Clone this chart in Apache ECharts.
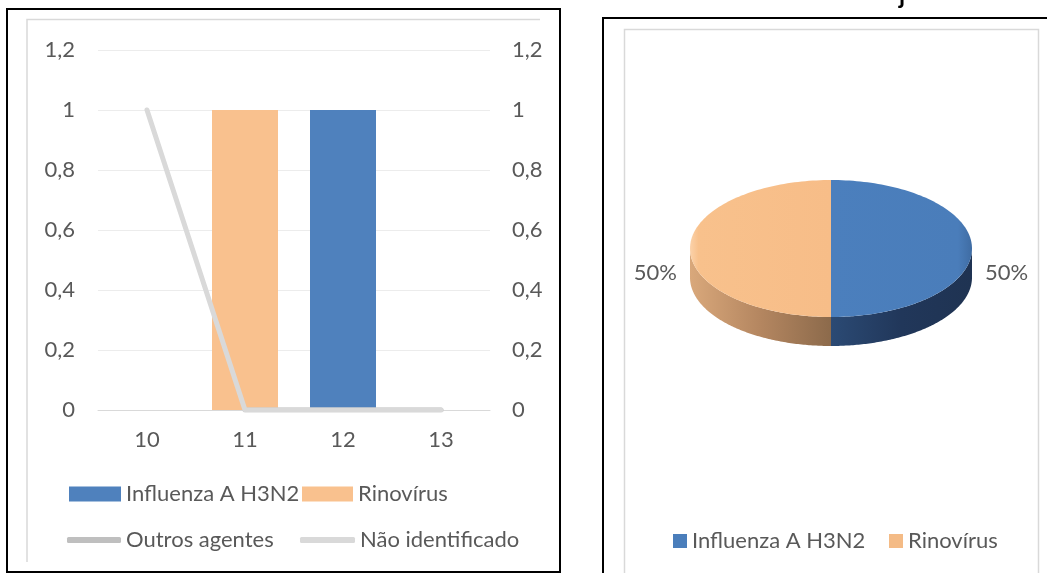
<!DOCTYPE html>
<html><head><meta charset="utf-8">
<script src="https://cdn.jsdelivr.net/npm/echarts@6/dist/echarts.min.js"></script>
<style>html,body{margin:0;padding:0;background:#fff}#c{width:1047px;height:573px}</style>
</head><body><div id="c"></div>
<script>
const categories = ['10', '11', '12', '13'];
const influenza = [0, 0, 1, 0];
const rinovirus = [0, 1, 0, 0];
const outrosAgentes = [null, 0, 0, 0];
const naoIdentificado = [1, 0, 0, 0];
const yMin = 0, yMax = 1.2, yStep = 0.2;
const pieNames = ['Influenza A H3N2', 'Rinovírus'];
const pieValues = [1, 1];

const FONT = 'Lato, "Liberation Sans", sans-serif';
const TXT = '#595959';
const BLUE = '#4f81bd', ORANGE = '#f9c18e';

function fmt(v){ return String(Number(v.toFixed(1))).replace('.', ','); }

const pieGeom = {cx: 831, cy: 248.5, rx: 141, ry: 68.5, depth: 29};
const sideFills = [
  {type:'linear',x:0,y:0,x2:1,y2:0,colorStops:[{offset:0,color:'#2b4a74'},{offset:0.5,color:'#21375a'},{offset:1,color:'#1f3352'}]},
  {type:'linear',x:0,y:0,x2:1,y2:0,colorStops:[{offset:0,color:'#d9a87b'},{offset:0.5,color:'#b48660'},{offset:1,color:'#8c6a4b'}]}
];
const topFills = [
  {type:'linear',x:0,y:0,x2:1,y2:0,colorStops:[{offset:0,color:'#4b7fbd'},{offset:0.9,color:'#4a7dba'},{offset:1,color:'#3f6ca3'}]},
  {type:'linear',x:0,y:0,x2:1,y2:0,colorStops:[{offset:0,color:'#fbd2aa'},{offset:0.06,color:'#f8c18c'},{offset:1,color:'#f7bd88'}]}
];

function pieRender(idx){
  return function(params, api){
    const total = pieValues.reduce((a,b)=>a+b,0);
    let start = 0;
    for (let i=0;i<idx;i++) start += pieValues[i];
    const v = api.value(0);
    const a0 = start/total*Math.PI*2, a1 = (start+v)/total*Math.PI*2;
    const g = pieGeom;
    const pt = (a, dy) => [g.cx + g.rx*Math.sin(a), g.cy - g.ry*Math.cos(a) + dy];
    const N = 120;
    const topPts = [[g.cx, g.cy]];
    for (let k=0;k<=N;k++) topPts.push(pt(a0 + (a1-a0)*k/N, 0));
    const children = [];
    const lo = Math.max(a0, Math.PI/2), hi = Math.min(a1, Math.PI*1.5);
    if (hi > lo) {
      const sp = [];
      for (let k=0;k<=N;k++) sp.push(pt(lo + (hi-lo)*k/N, 0));
      for (let k=N;k>=0;k--) sp.push(pt(lo + (hi-lo)*k/N, g.depth));
      children.push({type:'polygon', shape:{points:sp}, style:{fill:sideFills[idx], stroke:null}});
    }
    children.push({type:'polygon', shape:{points:topPts}, style:{fill:topFills[idx], stroke:null}});
    const mid = (a0+a1)/2;
    const s = Math.sin(mid);
    const p = pt(mid, 0);
    const pct = Math.round(v/total*100) + '%';
    children.push({type:'text', x: p[0] + (s>=0 ? 13 : -13), y: p[1] + 24,
      style:{text:pct, fill:TXT, font:'22px ' + FONT, align: s>=0 ? 'left':'right', verticalAlign:'middle'}});
    return {type:'group', children};
  };
}

const chart = echarts.init(document.getElementById('c'), null, {renderer:'canvas'});

function legend(name, left, top, opts){
  return Object.assign({
    show:true, left:left, top:top, orient:'horizontal', selectedMode:false,
    data:[name], itemGap:0, padding:0,
    textStyle:{color:TXT, fontSize:22, fontFamily:FONT, lineHeight:24}
  }, opts);
}

const option = {
  animation:false,
  backgroundColor:'#fff',
  grid:{left:98, right:557, top:50, bottom:163, containLabel:false},
  xAxis:{type:'category', data:categories,
    axisLine:{show:true, lineStyle:{color:'#d9d9d9', width:1}},
    axisTick:{show:false},
    axisLabel:{color:TXT, fontSize:22, fontFamily:FONT, margin:19}},
  yAxis:[
    {type:'value', min:yMin, max:yMax, interval:yStep, position:'left',
      axisLine:{show:false}, axisTick:{show:false},
      axisLabel:{color:TXT, fontSize:22, fontFamily:FONT, margin:23, formatter:fmt},
      splitLine:{lineStyle:{color:'#ececec', width:1}}},
    {type:'value', min:yMin, max:yMax, interval:yStep, position:'right',
      axisLine:{show:false}, axisTick:{show:false},
      axisLabel:{color:TXT, fontSize:22, fontFamily:FONT, margin:22, formatter:fmt},
      splitLine:{show:false}}
  ],
  legend:[
    legend('Influenza A H3N2', 69, 482, {itemWidth:52, itemHeight:15, icon:'rect'}),
    legend('Rinovírus', 302, 482, {itemWidth:51, itemHeight:15, icon:'rect'}),
    legend('Outros agentes', 67, 528, {itemWidth:54, itemHeight:6, icon:'roundRect'}),
    legend('Não identificado', 300, 528, {itemWidth:55, itemHeight:6, icon:'roundRect'}),
    legend('Influenza A H3N2 ', 673, 529, {itemWidth:14, itemHeight:14, icon:'rect'}),
    legend('Rinovírus ', 889, 529, {itemWidth:14, itemHeight:14, icon:'rect'})
  ],
  graphic:[
    {type:'rect', shape:{x:7, y:9, width:553, height:563}, style:{fill:null, stroke:'#000', lineWidth:2}, silent:true},
    {type:'polyline', shape:{points:[[27,562],[27,19.5],[540,19.5]]}, style:{fill:null, stroke:'#d9d9d9', lineWidth:1.5}, silent:true},
    {type:'polyline', shape:{points:[[603,573],[603,18],[1047,18]]}, style:{fill:null, stroke:'#000', lineWidth:2}, silent:true},
    {type:'polyline', shape:{points:[[624.5,573],[624.5,29.5],[1038.5,29.5],[1038.5,573]]}, style:{fill:null, stroke:'#d9d9d9', lineWidth:1.5}, silent:true},
    {type:'text', x:899, y:-16, style:{text:'j', font:'bold 24px ' + FONT, fill:'#000'}, silent:true}
  ],
  series:[
    {name:'Influenza A H3N2', type:'bar', stack:'s', data:influenza, barWidth:66, itemStyle:{color:BLUE}, xAxisIndex:0, yAxisIndex:0},
    {name:'Rinovírus', type:'bar', stack:'s', data:rinovirus, barWidth:66, itemStyle:{color:ORANGE}, xAxisIndex:0, yAxisIndex:0},
    {name:'Outros agentes', type:'line', data:outrosAgentes, symbol:'none', color:'#bfbfbf',
      lineStyle:{color:'#bfbfbf', width:5, cap:'round', join:'round'}, itemStyle:{color:'#bfbfbf'}, z:3},
    {name:'Não identificado', type:'line', data:naoIdentificado, symbol:'none', color:'#d9d9d9',
      lineStyle:{color:'#d9d9d9', width:5, cap:'round', join:'round'}, itemStyle:{color:'#d9d9d9'}, z:4},
    {name:'Influenza A H3N2 ', type:'custom', coordinateSystem:'none', data:[[pieValues[0]]], renderItem:pieRender(0), itemStyle:{color:'#4a7ebb'}, z:5},
    {name:'Rinovírus ', type:'custom', coordinateSystem:'none', data:[[pieValues[1]]], renderItem:pieRender(1), itemStyle:{color:'#f4bb86'}, z:5}
  ]
};
chart.setOption(option);
</script>
</body></html>
